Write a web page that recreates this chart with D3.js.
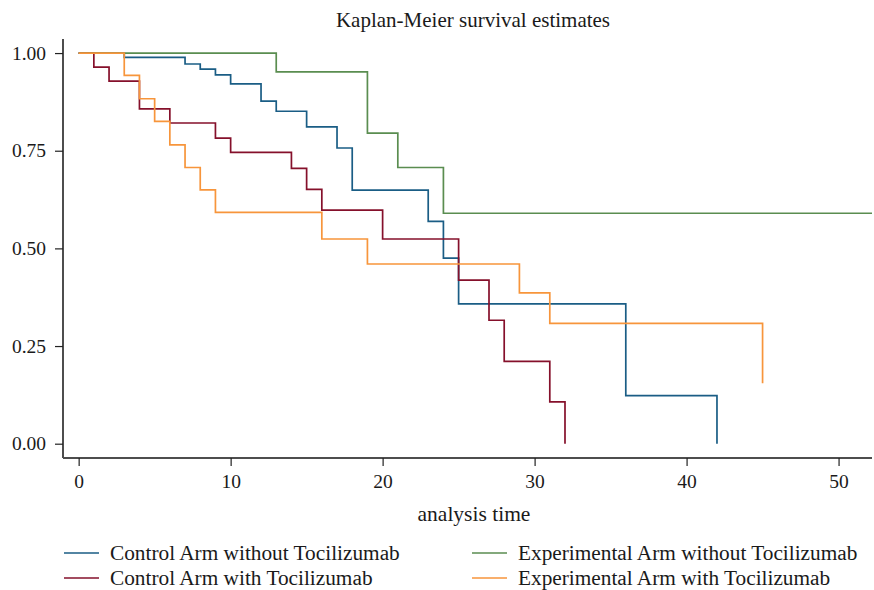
<!DOCTYPE html>
<html>
<head>
<meta charset="utf-8">
<script src="https://cdn.jsdelivr.net/npm/d3@7"></script>
<style>
  body { margin: 0; background: #fff; }
  text { font-family: "Liberation Serif", "Times New Roman", serif; fill: #1a1a1a; }
</style>
</head>
<body>
<div id="chart"></div>
<script>
// values: drop times and survival after each drop
const ctrlNoTimes = [0, 3, 7, 8, 9, 10, 12, 13, 15, 17, 18, 23, 24, 25, 36, 42];
const ctrlNoSurv  = [1, 0.989, 0.972, 0.959, 0.944, 0.921, 0.877, 0.851, 0.811, 0.757, 0.649, 0.569, 0.475, 0.358, 0.123, 0];
const ctrlNoEnd = 42;

const ctrlTociTimes = [0, 1, 2, 4, 6, 9, 10, 14, 15, 16, 20, 25, 27, 28, 31, 32];
const ctrlTociSurv  = [1, 0.964, 0.928, 0.857, 0.821, 0.782, 0.746, 0.705, 0.651, 0.598, 0.524, 0.419, 0.316, 0.211, 0.107, 0];
const ctrlTociEnd = 32;

const expNoTimes = [0, 13, 19, 21, 24];
const expNoSurv  = [1, 0.952, 0.795, 0.707, 0.590];
const expNoEnd = 52.2;

const expTociTimes = [0, 3, 4, 5, 6, 7, 8, 9, 16, 19, 29, 31, 45];
const expTociSurv  = [1, 0.943, 0.883, 0.825, 0.765, 0.707, 0.650, 0.592, 0.524, 0.460, 0.386, 0.308, 0.155];
const expTociEnd = 45;

const seriesNames = ["Control Arm without Tocilizumab", "Control Arm with Tocilizumab",
                     "Experimental Arm without Tocilizumab", "Experimental Arm with Tocilizumab"];
const xTicks = [0, 10, 20, 30, 40, 50];
const yTicks = [0, 0.25, 0.5, 0.75, 1];

const colours = ["#1a5d85", "#85102b", "#5a8d50", "#f7953b"];

const W = 874, H = 590;
const plot = { left: 63, right: 872, top: 39, bottom: 458 };

const svg = d3.select("#chart").append("svg")
    .attr("width", W)
    .attr("height", H);

let x = d3.scaleLinear().domain([-1.03, 52.2]).range([plot.left, plot.right]);
let y = d3.scaleLinear().domain([-0.0366, 1.036]).range([plot.bottom, plot.top]);

// build step series
function steps(times, surv, end) {
  let pts = times.map(function (t, i) { return { t: t, s: surv[i] }; });
  pts.push({ t: end, s: surv[surv.length - 1] });
  return pts;
}
const series = [
  steps(ctrlNoTimes, ctrlNoSurv, ctrlNoEnd),
  steps(ctrlTociTimes, ctrlTociSurv, ctrlTociEnd),
  steps(expNoTimes, expNoSurv, expNoEnd),
  steps(expTociTimes, expTociSurv, expTociEnd)
];

// title
svg.append("text")
  .attr("x", 473).attr("y", 27)
  .attr("text-anchor", "middle")
  .style("font-size", "21px")
  .text("Kaplan-Meier survival estimates");

// axes
let xAxis = svg.append("g")
  .attr("transform", `translate(0, ${plot.bottom})`)
  .call(d3.axisBottom(x).tickValues(xTicks).tickSize(8).tickPadding(8).tickSizeOuter(0));
let yAxis = svg.append("g")
  .attr("transform", `translate(${plot.left}, 0)`)
  .call(d3.axisLeft(y).tickValues(yTicks).tickFormat(d3.format(".2f")).tickSize(8).tickPadding(9).tickSizeOuter(0));

[xAxis, yAxis].forEach(function (a) {
  a.select(".domain").attr("stroke", "#4d4d4d").attr("stroke-width", 2);
  a.selectAll(".tick line").attr("stroke", "#222").attr("stroke-width", 1.2);
  a.selectAll(".tick text").style("font-size", "19.5px").attr("fill", "#1a1a1a");
});
xAxis.select(".domain").attr("d", `M${plot.left},0H${plot.right}`);
yAxis.select(".domain").attr("d", `M0,${plot.top}V${plot.bottom}`);

svg.append("text")
  .attr("x", 474).attr("y", 521)
  .attr("text-anchor", "middle")
  .style("font-size", "21.5px")
  .text("analysis time");

// curves
let line = d3.line()
  .x(function (d) { return x(d.t); })
  .y(function (d) { return y(d.s); })
  .curve(d3.curveStepAfter);

svg.append("g")
  .selectAll("path")
  .data(series)
  .enter().append("path")
  .attr("d", line)
  .attr("fill", "none")
  .attr("stroke", function (d, i) { return colours[i]; })
  .attr("stroke-width", 1.7);

// legend
const legendPos = [[64, 553], [64, 578], [472, 553], [472, 578]];
let legend = svg.append("g")
  .selectAll("g")
  .data(seriesNames)
  .enter().append("g")
  .attr("transform", function (d, i) { return `translate(${legendPos[i][0]}, ${legendPos[i][1]})`; });

legend.append("line")
  .attr("x1", 0).attr("x2", 35)
  .attr("y1", 0).attr("y2", 0)
  .attr("stroke", function (d, i) { return colours[i]; })
  .attr("stroke-width", 1.5);

legend.append("text")
  .attr("x", 46).attr("y", 6.5)
  .style("font-size", "21.3px")
  .text(function (d) { return d; });
</script>
</body>
</html>
